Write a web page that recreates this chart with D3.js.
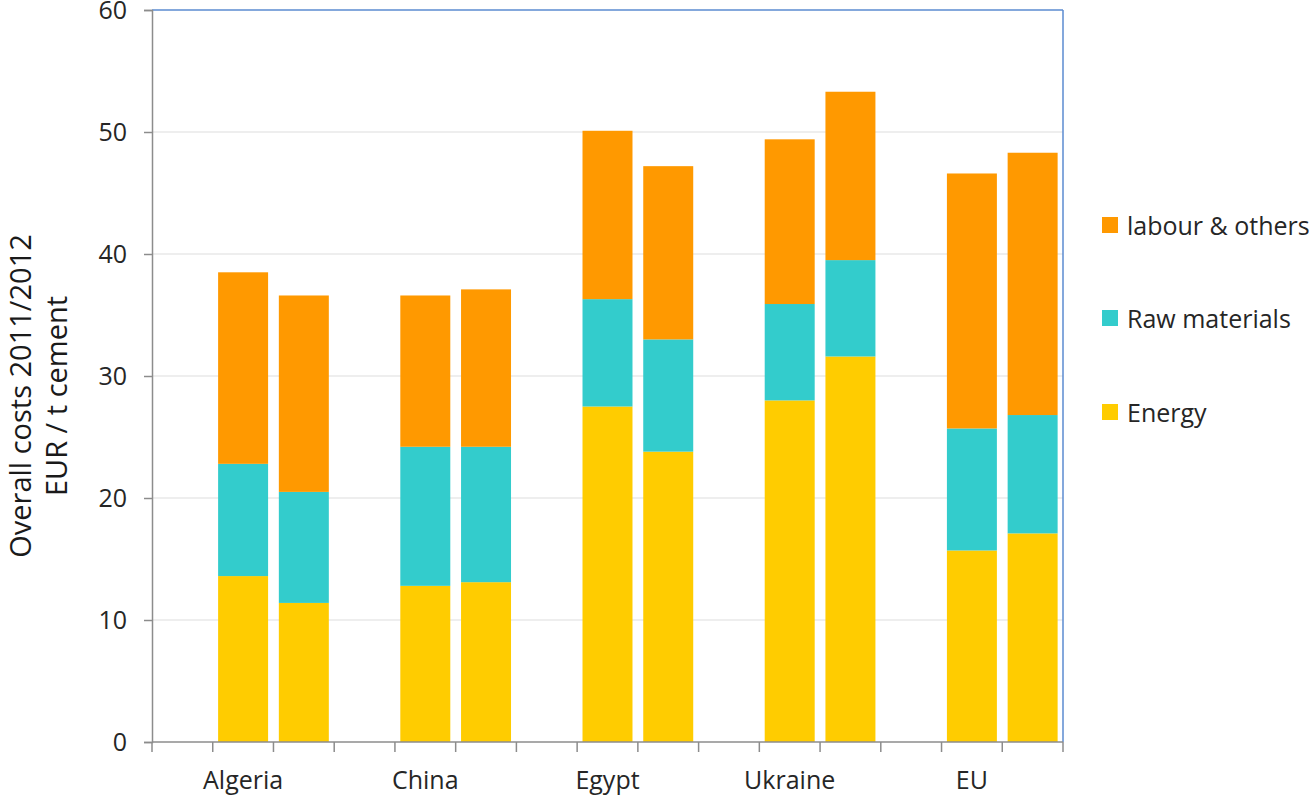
<!DOCTYPE html>
<html>
<head>
<meta charset="utf-8">
<script src="https://cdn.jsdelivr.net/npm/d3@7"></script>
<style>
  html, body { margin: 0; padding: 0; background: #fff; }
  svg { display: block; font-family: "Open Sans", "Noto Sans", sans-serif; }
</style>
</head>
<body>
<svg id="chart" width="1316" height="798"></svg>
<script>
// Category slots: each country has two bars, separated by an empty slot
const slots = ["s0","a1","a2","s1","c1","c2","s2","e1","e2","s3","u1","u2","s4","eu1","eu2"];
const slotLabels = ["", "Algeria", "", "", "China", "", "", "Egypt", "", "", "Ukraine", "", "", "EU", ""];
const barSlots = ["a1","a2","c1","c2","e1","e2","u1","u2","eu1","eu2"];

// Cost components, EUR per tonne of cement
const energy = [13.6, 11.4, 12.8, 13.1, 27.5, 23.8, 28.0, 31.6, 15.7, 17.1];
const rawMaterials = [9.2, 9.1, 11.4, 11.1, 8.8, 9.2, 7.9, 7.9, 10.0, 9.7];
const labourOthers = [15.7, 16.1, 12.4, 12.9, 13.8, 14.2, 13.5, 13.8, 20.9, 21.5];

const seriesNames = ["Energy", "Raw materials", "labour & others"];
const seriesColors = ["#FFCC00", "#33CCCC", "#FF9900"];
const yTicks = [0, 10, 20, 30, 40, 50, 60];

const svg = d3.select("#chart");
const plot = { left: 152, right: 1063, top: 10, bottom: 742 };

const x = d3.scaleBand()
  .domain(slots)
  .range([plot.left, plot.right])
  .paddingInner(0.177)
  .paddingOuter(0.0885);

const y = d3.scaleLinear().domain([0, 60]).range([plot.bottom, plot.top]);

// horizontal gridlines
svg.append("g")
  .selectAll("line")
  .data(yTicks.filter(t => t > 0 && t < 60))
  .join("line")
  .attr("x1", plot.left).attr("x2", plot.right)
  .attr("y1", d => y(d)).attr("y2", d => y(d))
  .attr("stroke", "#e8e8e8").attr("stroke-width", 1.5);

// stacked bars
const rows = barSlots.map((s, i) => ({
  slot: s, "Energy": energy[i], "Raw materials": rawMaterials[i], "labour & others": labourOthers[i]
}));
const stacked = d3.stack().keys(seriesNames)(rows);

svg.append("g")
  .selectAll("g")
  .data(stacked)
  .join("g")
  .attr("fill", (d, i) => seriesColors[i])
  .selectAll("rect")
  .data(d => d)
  .join("rect")
  .attr("x", d => x(d.data.slot))
  .attr("width", x.bandwidth())
  .attr("y", d => y(d[1]))
  .attr("height", d => y(d[0]) - y(d[1]));

// plot frame: blue top and right edges
svg.append("line")
  .attr("x1", plot.left).attr("x2", plot.right)
  .attr("y1", y(60)).attr("y2", y(60))
  .attr("stroke", "#5B8BD0").attr("stroke-width", 1.5);
svg.append("line")
  .attr("x1", plot.right).attr("x2", plot.right)
  .attr("y1", y(60)).attr("y2", plot.bottom)
  .attr("stroke", "#5B8BD0").attr("stroke-width", 1.5);

// y axis
const yAxis = svg.append("g")
  .attr("transform", `translate(${plot.left},0)`)
  .call(d3.axisLeft(y).tickValues(yTicks).tickSize(8).tickPadding(17).tickFormat(d3.format("d")));
yAxis.select(".domain").attr("stroke", "#8c8c8c").attr("stroke-width", 1.5);
yAxis.selectAll(".tick line").attr("stroke", "#8c8c8c").attr("stroke-width", 1.5);
yAxis.selectAll(".tick text")
  .attr("font-family", "'Open Sans', sans-serif")
  .attr("font-size", 25).attr("fill", "#262626");

// x axis: ticks on every slot boundary, labels under the first bar of each pair
const boundaries = d3.range(slots.length + 1).map(i => plot.left + i * x.step());
const xg = svg.append("g");
xg.append("line")
  .attr("x1", plot.left).attr("x2", plot.right)
  .attr("y1", plot.bottom).attr("y2", plot.bottom)
  .attr("stroke", "#8c8c8c").attr("stroke-width", 1.5);
xg.selectAll("line.tk")
  .data(boundaries)
  .join("line").attr("class", "tk")
  .attr("x1", d => d).attr("x2", d => d)
  .attr("y1", plot.bottom).attr("y2", plot.bottom + 10)
  .attr("stroke", "#8c8c8c").attr("stroke-width", 1.5);
xg.selectAll("text")
  .data(slots.map((s, i) => ({ s, label: slotLabels[i] })).filter(d => d.label))
  .join("text")
  .attr("x", d => x(d.s) + x.bandwidth() / 2)
  .attr("y", 789)
  .attr("text-anchor", "middle")
  .attr("font-size", 25).attr("fill", "#262626")
  .text(d => d.label);

// y axis title
const title = svg.append("text")
  .attr("transform", "translate(0,396) rotate(-90)")
  .attr("text-anchor", "middle")
  .attr("font-size", 29).attr("fill", "#1a1a1a");
title.append("tspan").attr("x", 0).attr("y", 31).text("Overall costs 2011/2012");
title.append("tspan").attr("x", 0).attr("y", 67).text("EUR / t cement");

// legend, listed top-down from the top of the stack
const legendItems = seriesNames.map((n, i) => ({ n, c: seriesColors[i] })).reverse();
const legendY = [225, 318, 412];
const lg = svg.append("g").selectAll("g")
  .data(legendItems)
  .join("g")
  .attr("transform", (d, i) => `translate(1102,${legendY[i]})`);
lg.append("rect")
  .attr("x", 0).attr("y", -8).attr("width", 16).attr("height", 16)
  .attr("fill", d => d.c);
lg.append("text")
  .attr("x", 25).attr("y", 0)
  .attr("dominant-baseline", "central")
  .attr("font-size", 25).attr("fill", "#262626")
  .text(d => d.n);
</script>
</body>
</html>
